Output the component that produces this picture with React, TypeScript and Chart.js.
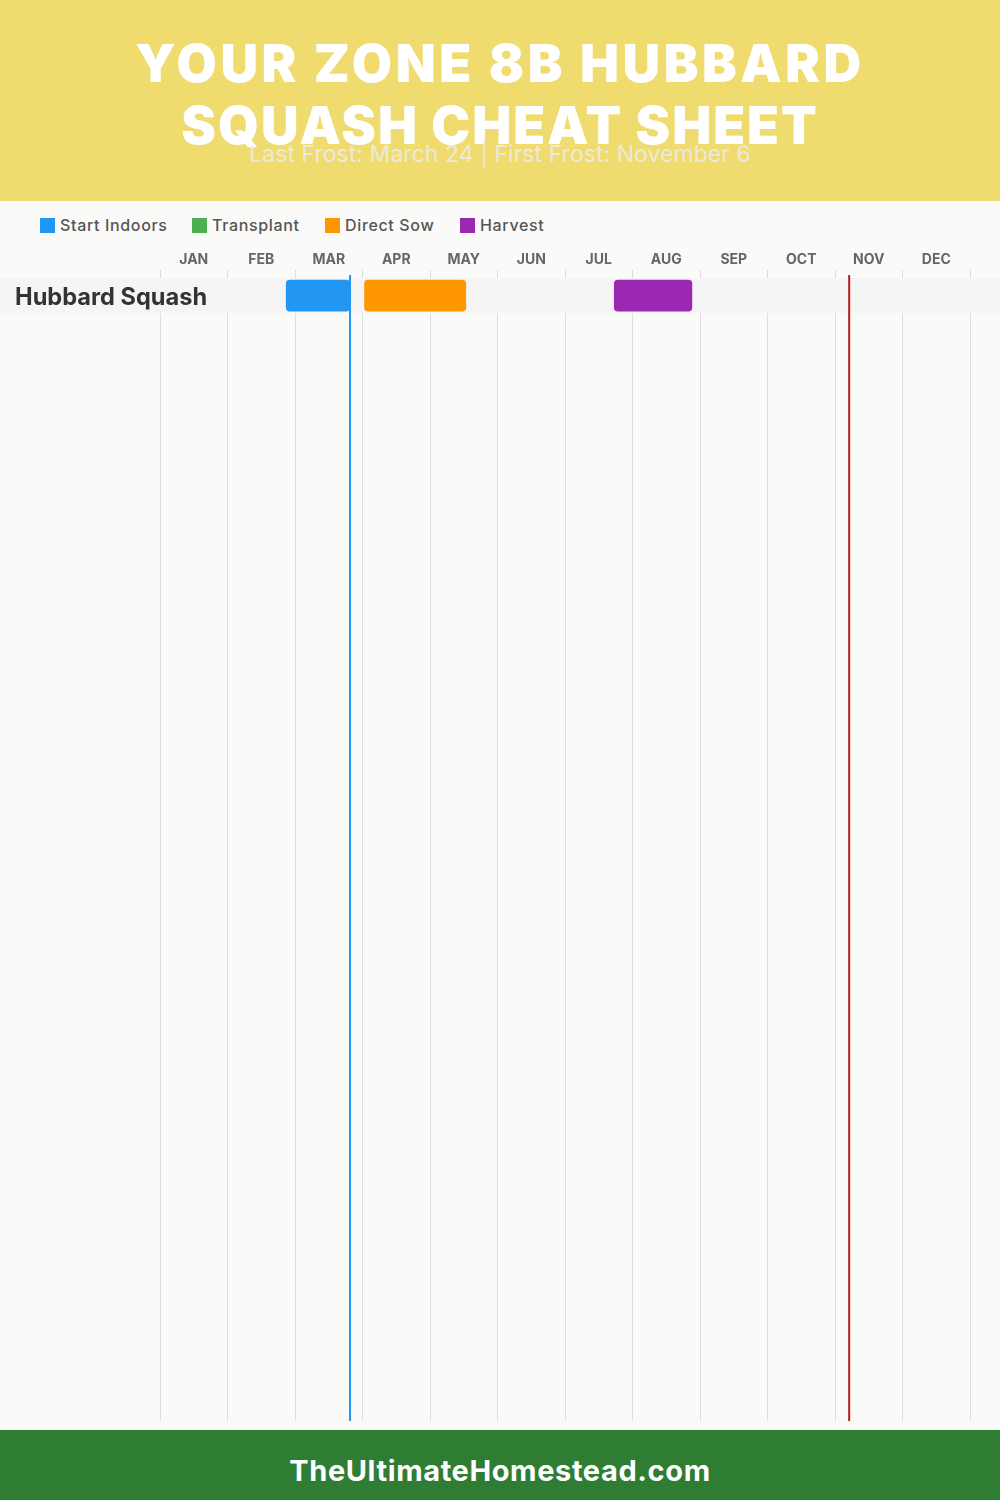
import { useEffect, useRef } from 'react';
import { Chart, registerables, type Plugin } from 'chart.js';

Chart.register(...registerables);

const FONT = 'Inter, "Noto Sans", sans-serif';

const months = ['JAN', 'FEB', 'MAR', 'APR', 'MAY', 'JUN', 'JUL', 'AUG', 'SEP', 'OCT', 'NOV', 'DEC'];
const rows = ['Hubbard Squash'];

// month units, 0 = Jan 1, 12 = end of Dec
const startIndoors = [[1.87, 2.81]];
const transplant: number[][] = [];
const directSow = [[3.03, 4.53]];
const harvest = [[6.73, 7.88]];

const lastFrost = 2.815;
const firstFrost = 10.21;

const legendItems = [
  { label: 'Start Indoors', color: '#2196F3', width: 152 },
  { label: 'Transplant', color: '#4CAF50', width: 133 },
  { label: 'Direct Sow', color: '#FF9800', width: 135 },
  { label: 'Harvest', color: '#9C27B0', width: 100 },
];

const series = [startIndoors, transplant, directSow, harvest];

const rowBand: Plugin = {
  id: 'rowBand',
  beforeDatasetsDraw(chart) {
    const { ctx, scales } = chart;
    ctx.save();
    ctx.fillStyle = '#F5F5F5';
    rows.forEach((_, i) => {
      ctx.fillRect(0, scales.y.getPixelForValue(i) - 17.5, chart.width, 35);
    });
    ctx.restore();
  },
};

const frostLines: Plugin = {
  id: 'frostLines',
  afterDatasetsDraw(chart) {
    const { ctx, scales, chartArea } = chart;
    const draw = (value: number, color: string) => {
      const x = scales.x.getPixelForValue(value);
      ctx.save();
      ctx.strokeStyle = color;
      ctx.lineWidth = 2;
      ctx.beginPath();
      ctx.moveTo(x, chartArea.top + 5);
      ctx.lineTo(x, chartArea.bottom);
      ctx.stroke();
      ctx.restore();
    };
    draw(lastFrost, '#2196F3');
    draw(firstFrost, '#B71C1C');
  },
};

export default function App() {
  const canvasRef = useRef<HTMLCanvasElement | null>(null);

  useEffect(() => {
    const canvas = canvasRef.current;
    if (!canvas) return;

    const chart = new Chart(canvas, {
      type: 'bar',
      data: {
        labels: rows,
        datasets: legendItems.map((item, i) => ({
          label: item.label,
          data: series[i].map((range, r) => ({ x: range, y: r })),
          backgroundColor: item.color,
          barThickness: 31,
          borderRadius: 4,
          borderSkipped: false,
          grouped: false,
        })) as any,
      },
      options: {
        indexAxis: 'y',
        animation: false,
        responsive: false,
        devicePixelRatio: 1,
        layout: { padding: { left: 15, right: 30, bottom: 9 } },
        plugins: { legend: { display: false }, tooltip: { enabled: false } },
        scales: {
          x: { type: 'linear', min: 0, max: 12, display: false },
          months: {
            type: 'category',
            axis: 'x',
            labels: months,
            position: 'top',
            offset: true,
            afterFit: (scale: any) => {
              scale.height = 30;
            },
            border: { display: false },
            grid: { offset: true, color: '#DDDDDD', lineWidth: 1, drawTicks: false },
            ticks: {
              padding: 2,
              autoSkip: false,
              maxRotation: 0,
              color: '#666666',
              font: { family: FONT, size: 14, weight: 'bold' },
            },
          },
          y: {
            type: 'linear',
            reverse: true,
            offset: false,
            min: -0.73,
            max: 32.16,
            afterBuildTicks: (scale: any) => {
              scale.ticks = rows.map((_, i) => ({ value: i }));
            },
            afterFit: (scale: any) => {
              scale.width = 145;
              scale.paddingTop = 0;
              scale.paddingBottom = 0;
            },
            border: { display: false },
            grid: { display: false },
            ticks: {
              mirror: true,
              padding: -145,
              labelOffset: 2,
              z: 1,
              color: '#333333',
              font: { family: FONT, size: 23.6, weight: 'bold' },
              callback: (value: any) => rows[value as number],
            },
          },
        } as any,
      },
      plugins: [rowBand, frostLines],
    });

    return () => chart.destroy();
  }, []);

  return (
    <div style={{ position: 'absolute', left: 0, top: 0, width: 1000, height: 1500, background: '#FAFAF8', fontFamily: FONT, overflow: 'hidden' }}>
      <div style={{ position: 'absolute', left: 0, top: 0, width: 1000, height: 201, background: '#F0DB6E' }}>
        <div style={{ position: 'absolute', left: 0, top: 33, width: 1000, textAlign: 'center', color: '#FFFFFF', fontSize: 52, fontWeight: 900, lineHeight: '62px' }}>
          <div style={{ letterSpacing: 3.6 }}>YOUR ZONE 8B HUBBARD</div>
          <div style={{ letterSpacing: 2 }}>SQUASH CHEAT SHEET</div>
        </div>
        <div style={{ position: 'absolute', left: 0, top: 139, width: 1000, textAlign: 'center', color: 'rgba(235,235,235,0.9)', fontSize: 23, letterSpacing: 0.05, lineHeight: '30px' }}>
          Last Frost: March 24 | First Frost: November 6
        </div>
      </div>
      <div style={{ position: 'absolute', left: 40, top: 215, display: 'flex', height: 20, alignItems: 'center' }}>
        {legendItems.map((item) => (
          <div key={item.label} style={{ display: 'flex', alignItems: 'center', width: item.width, color: '#555555', fontSize: 16, fontWeight: 500, letterSpacing: 0.65 }}>
            <span style={{ width: 15, height: 15, background: item.color, marginRight: 5, flex: 'none' }} />
            {item.label}
          </div>
        ))}
      </div>
      <canvas ref={canvasRef} width={1000} height={1190} style={{ position: 'absolute', left: 0, top: 240, width: 1000, height: 1190 }} />
      <div style={{ position: 'absolute', left: 0, top: 1430, width: 1000, height: 70, lineHeight: '82px', background: '#2E7D32', color: '#FFFFFF', textAlign: 'center', fontSize: 29, fontWeight: 700, letterSpacing: 0.6 }}>
        TheUltimateHomestead.com
      </div>
    </div>
  );
}
